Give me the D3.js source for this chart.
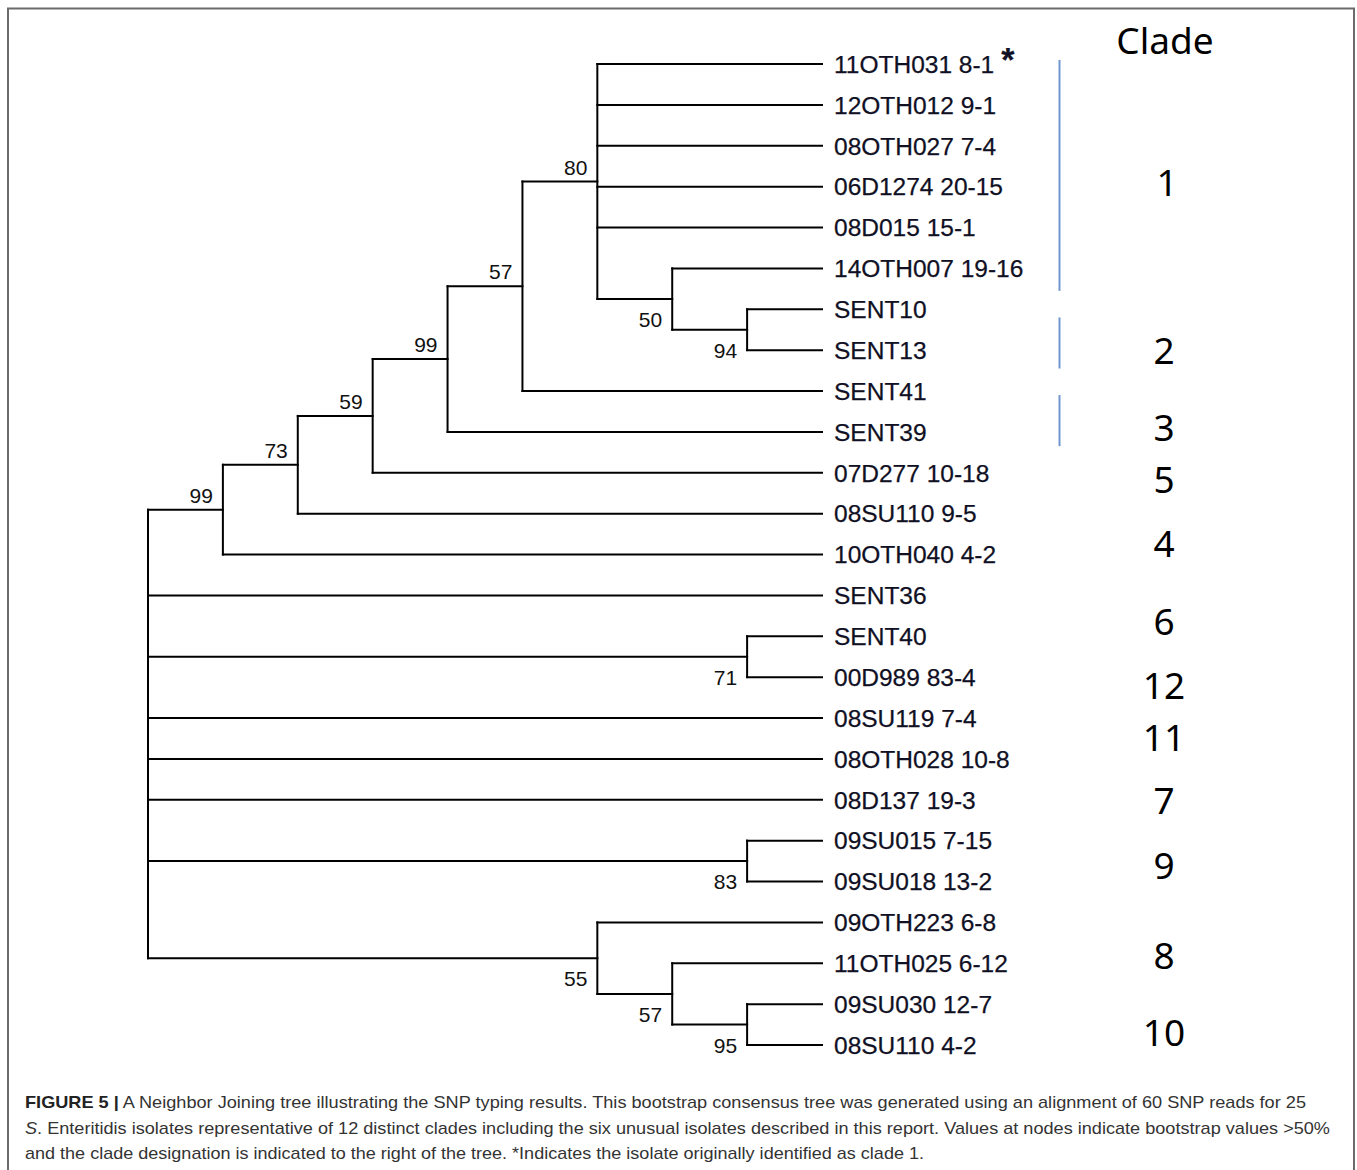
<!DOCTYPE html>
<html lang="en">
<head>
    <meta charset="UTF-8">
    <title>Figure 5 - NJ tree</title>
    <script src="https://d3js.org/d3.v7.min.js"></script>
    <style>
        body { margin: 0; background: #fff; }
        svg { display: block; }
        .branch { stroke: #000; stroke-width: 2; stroke-linecap: square; fill: none; }
        .tip { font-family: "Liberation Sans", Arial, sans-serif; font-size: 24.5px; fill: #101024; stroke: #101024; stroke-width: 0.25px; }
        .boot { font-family: "Liberation Sans Narrow", "Liberation Sans", Arial, sans-serif; font-size: 21px; fill: #111; }
        .clade { font-family: "Noto Sans", "Open Sans", sans-serif; font-size: 37px; fill: #000; }
        .caption { font-family: "Liberation Sans", Arial, sans-serif; font-size: 17px; fill: #333; }
    </style>
</head>
<body>
<script>
    var width = 1357;
    var height = 1170;

    // tips, top to bottom
    var tips = ["11OTH031 8-1", "12OTH012 9-1", "08OTH027 7-4", "06D1274 20-15", "08D015 15-1",
        "14OTH007 19-16", "SENT10", "SENT13", "SENT41", "SENT39", "07D277 10-18", "08SU110 9-5",
        "10OTH040 4-2", "SENT36", "SENT40", "00D989 83-4", "08SU119 7-4", "08OTH028 10-8",
        "08D137 19-3", "09SU015 7-15", "09SU018 13-2", "09OTH223 6-8", "11OTH025 6-12",
        "09SU030 12-7", "08SU110 4-2"];
    var tipParent = ["n6", "n6", "n6", "n6", "n6", "n7", "n8", "n8", "n5", "n4", "n3", "n2", "n1",
        "root", "n9", "n9", "root", "root", "root", "n10", "n10", "n11", "n12", "n13", "n13"];

    // internal nodes and bootstrap values
    var nodeNames = ["root", "n1", "n2", "n3", "n4", "n5", "n6", "n7", "n8", "n9", "n10", "n11", "n12", "n13"];
    var nodeParent = ["", "root", "n1", "n2", "n3", "n4", "n5", "n6", "n7", "root", "root", "root", "n11", "n12"];
    var nodeSupport = [null, 99, 73, 59, 99, 57, 80, 50, 94, 71, 83, 55, 57, 95];

    // clade column (positions in tip units)
    var cladeLabels = ["1", "2", "3", "5", "4", "6", "12", "11", "7", "9", "8", "10"];
    var cladeAt = [2.91, 7.02, 8.9, 10.18, 11.74, 13.65, 15.22, 16.49, 18.03, 19.62, 21.82, 23.71];
    var cladeBars = [[-0.1, 5.55], [6.2, 7.45], [8.1, 9.35]];

    var captionLines = [
        [["FIGURE 5 |", "bold"], [" A Neighbor Joining tree illustrating the SNP typing results. This bootstrap consensus tree was generated using an alignment of 60 SNP reads for 25", ""]],
        [["S", "italic"], [". Enteritidis isolates representative of 12 distinct clades including the six unusual isolates described in this report. Values at nodes indicate bootstrap values >50%", ""]],
        [["and the clade designation is indicated to the right of the tree. *Indicates the isolate originally identified as clade 1.", ""]]
    ];
    var captionWidths = [1281, 1305, 899];

    var svg = d3.select('body').append('svg')
        .attr('width', width)
        .attr('height', height);

    // frame
    svg.append('path')
        .attr('d', 'M8,1170V8.5H1354V1170')
        .attr('fill', 'none')
        .attr('stroke', '#6b6b6b')
        .attr('stroke-width', 2);

    var rows = nodeNames.map(function (d, i) {
        return { id: d, parent: nodeParent[i] || null, support: nodeSupport[i], tip: -1 };
    }).concat(tips.map(function (d, i) {
        return { id: d, parent: tipParent[i], support: null, tip: i };
    }));

    var root = d3.stratify()
        .id(function (d) { return d.id; })
        .parentId(function (d) { return d.parent; })(rows);

    // order children by the first tip they hold
    root.eachAfter(function (n) {
        n.first = n.data.tip >= 0 ? n.data.tip : d3.min(n.children, function (c) { return c.first; });
    });
    root.sort(function (a, b) { return a.first - b.first; });

    var y = d3.scaleLinear().domain([0, tips.length - 1]).range([64, 1045]);
    var x = d3.scaleLinear().domain([root.height, 0]).range([148, 822]);

    root.eachAfter(function (n) {
        n.px = x(n.height);
        if (n.children) {
            n.py = (n.children[0].py + n.children[n.children.length - 1].py) / 2;
        } else {
            n.py = y(n.data.tip);
        }
    });

    var g = svg.append('g');

    // horizontal branches
    g.selectAll('.hbranch')
        .data(root.descendants().filter(function (n) { return n.parent; }))
        .enter()
        .append('line')
        .attr('class', 'branch')
        .attr('x1', function (n) { return n.parent.px; })
        .attr('x2', function (n) { return n.px; })
        .attr('y1', function (n) { return n.py; })
        .attr('y2', function (n) { return n.py; });

    // vertical connectors
    g.selectAll('.vbranch')
        .data(root.descendants().filter(function (n) { return n.children; }))
        .enter()
        .append('line')
        .attr('class', 'branch')
        .attr('x1', function (n) { return n.px; })
        .attr('x2', function (n) { return n.px; })
        .attr('y1', function (n) { return n.children[0].py; })
        .attr('y2', function (n) { return n.children[n.children.length - 1].py; });

    // bootstrap values: above branch for first child, below otherwise
    g.selectAll('.boot')
        .data(root.descendants().filter(function (n) { return n.data.support != null; }))
        .enter()
        .append('text')
        .attr('class', 'boot')
        .attr('text-anchor', 'end')
        .attr('x', function (n) { return n.px - 10; })
        .attr('y', function (n) {
            return n.parent.children[0] === n ? n.py - 7 : n.py + 28;
        })
        .text(function (n) { return n.data.support; });

    // tip labels
    var tipText = g.selectAll('.tip')
        .data(root.leaves())
        .enter()
        .append('text')
        .attr('class', 'tip')
        .attr('x', function (n) { return n.px + 12; })
        .attr('y', function (n) { return n.py; })
        .attr('dy', '0.36em')
        .text(function (n) { return n.data.id; });

    tipText.filter(function (n) { return n.data.tip === 0; })
        .append('tspan')
        .attr('dx', 7)
        .attr('dy', '-0.05em')
        .style('font-size', '34px')
        .style('font-weight', 'bold')
        .text('*');

    // clade column
    svg.append('text')
        .attr('class', 'clade')
        .attr('x', 1165)
        .attr('y', y(-0.56))
        .attr('dy', '0.36em')
        .attr('text-anchor', 'middle')
        .text('Clade');

    svg.selectAll('.cladeNum')
        .data(cladeLabels)
        .enter()
        .append('text')
        .attr('class', 'clade')
        .attr('x', function (d) { return d === '1' ? 1167 : 1164; })
        .attr('y', function (d, i) { return y(cladeAt[i]); })
        .attr('dy', '0.36em')
        .attr('text-anchor', 'middle')
        .text(function (d) { return d; });

    svg.selectAll('.cladeBar')
        .data(cladeBars)
        .enter()
        .append('line')
        .attr('x1', 1059.5)
        .attr('x2', 1059.5)
        .attr('y1', function (d) { return y(d[0]); })
        .attr('y2', function (d) { return y(d[1]); })
        .attr('stroke', '#7196cf')
        .attr('stroke-width', 2);

    // caption
    captionLines.forEach(function (line, i) {
        var t = svg.append('text')
            .attr('class', 'caption')
            .attr('x', 25)
            .attr('y', 1108 + i * 25.5)
            .attr('textLength', captionWidths[i])
            .attr('lengthAdjust', 'spacingAndGlyphs');
        line.forEach(function (part) {
            var s = t.append('tspan').text(part[0]);
            if (part[1] === 'bold') s.style('font-weight', 'bold').style('fill', '#222');
            if (part[1] === 'italic') s.style('font-style', 'italic');
        });
    });
</script>
</body>
</html>
